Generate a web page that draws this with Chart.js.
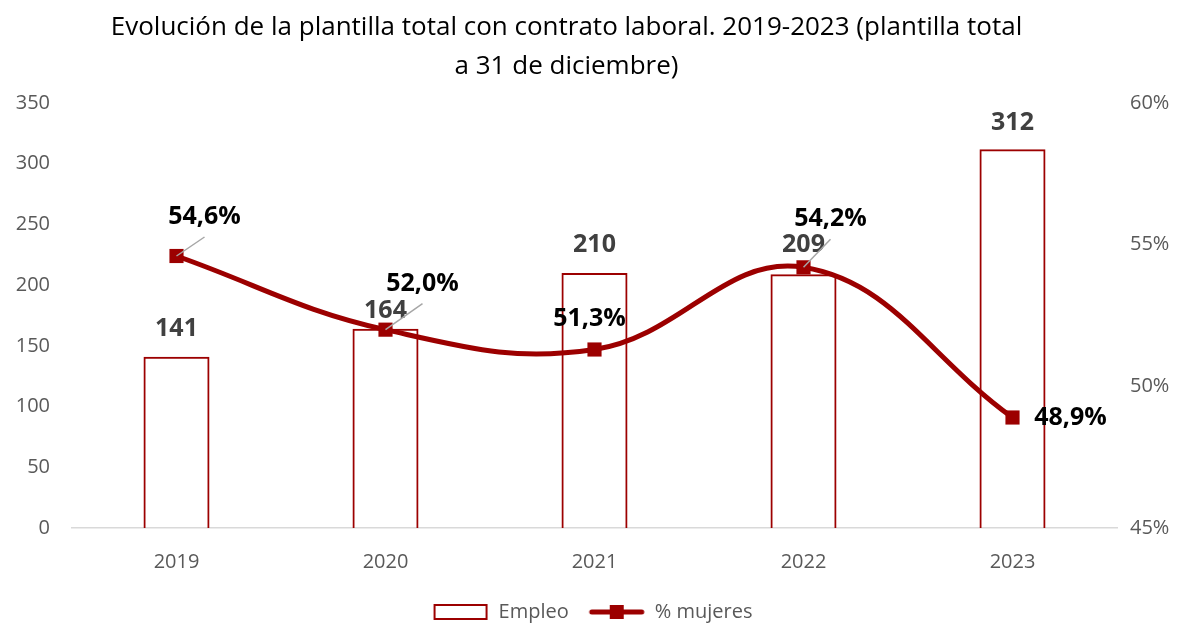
<!DOCTYPE html>
<html>
<head>
<meta charset="utf-8">
<script src="https://cdn.jsdelivr.net/npm/chart.js@4"></script>
<style>
  body { margin: 0; background: #fff; }
  #wrap { width: 1185px; height: 624px; }
</style>
</head>
<body>
<div id="wrap"><canvas id="myChart" width="1185" height="624"></canvas></div>
<script>
let years      = ["2019", "2020", "2021", "2022", "2023"];
let empleo     = [141, 164, 210, 209, 312];
let mujeres    = [54.6, 52.0, 51.3, 54.2, 48.9];
let leftTicks  = [0, 50, 100, 150, 200, 250, 300, 350];
let rightTicks = [45, 50, 55, 60];

// label placement (pixels), not data
let barLift    = [28, 18, 28, 29, 26];
let pctShift   = [[28, -39], [37, -46], [-5, -31], [27, -48], [58, 0]];
let pctLeader  = [true, true, false, true, false];

const red   = "#9c0000";
const grey  = "#595959";
const fam   = "'Open Sans', 'Noto Sans', sans-serif";

function fmtPct(v) {
    return v.toFixed(1).replace(".", ",") + "%";
}

// little legend swatches
function swatchBox() {
    const c = document.createElement("canvas");
    c.width = 56; c.height = 18;
    const x = c.getContext("2d");
    x.strokeStyle = red; x.lineWidth = 2;
    x.strokeRect(2, 2, 52, 14);
    return c;
}
function swatchLine() {
    const c = document.createElement("canvas");
    c.width = 58; c.height = 18;
    const x = c.getContext("2d");
    x.strokeStyle = red; x.lineWidth = 5; x.lineCap = "round";
    x.beginPath(); x.moveTo(4, 9); x.lineTo(54, 9); x.stroke();
    x.fillStyle = red;
    x.fillRect(22, 2, 14, 14);
    return c;
}

const labelsPlugin = {
    id: "valueLabels",
    afterLayout(chart) {
        // title sits a bit left of centre in the original
        if (chart.titleBlock) {
            chart.titleBlock.left -= 26;
            chart.titleBlock.right -= 26;
        }
    },
    afterDatasetsDraw(chart) {
        const ctx = chart.ctx;
        const barMeta  = chart.getDatasetMeta(0);
        const lineMeta = chart.getDatasetMeta(1);
        ctx.save();
        ctx.textAlign = "center";
        ctx.textBaseline = "middle";

        ctx.font = "bold 25px " + fam;
        ctx.fillStyle = "#404040";
        barMeta.data.forEach((bar, i) => {
            ctx.fillText(String(empleo[i]), bar.x, bar.y - barLift[i]);
        });

        lineMeta.data.forEach((pt, i) => {
            const lx = pt.x + pctShift[i][0];
            const ly = pt.y + pctShift[i][1];
            if (pctLeader[i]) {
                ctx.strokeStyle = "#a6a6a6";
                ctx.lineWidth = 1.5;
                ctx.beginPath();
                ctx.moveTo(pt.x, pt.y);
                ctx.lineTo(lx, ly + 20);
                ctx.stroke();
            }
        });
        ctx.fillStyle = "#000000";
        lineMeta.data.forEach((pt, i) => {
            ctx.fillText(fmtPct(mujeres[i]), pt.x + pctShift[i][0], pt.y + pctShift[i][1]);
        });
        ctx.restore();
    }
};

const ctx = document.getElementById("myChart").getContext("2d");
const myChart = new Chart(ctx, {
    data: {
        labels: years,
        datasets: [
            {
                type: "bar",
                label: "Empleo",
                data: empleo,
                yAxisID: "y",
                backgroundColor: "rgba(255,255,255,0)",
                borderColor: red,
                borderWidth: 2,
                barPercentage: 0.316,
                categoryPercentage: 1,
                order: 2
            },
            {
                type: "line",
                label: "% mujeres",
                data: mujeres,
                yAxisID: "y1",
                borderColor: red,
                backgroundColor: red,
                borderWidth: 5,
                tension: 0.4,
                pointStyle: "rect",
                pointRadius: 10,
                pointHoverRadius: 10,
                pointBackgroundColor: red,
                pointBorderWidth: 0,
                order: 1
            }
        ]
    },
    options: {
        responsive: false,
        animation: false,
        layout: { padding: { left: 0, right: 0, top: 0, bottom: -8 } },
        plugins: {
            title: {
                display: true,
                text: ["Evolución de la plantilla total con contrato laboral. 2019-2023 (plantilla total",
                       "a 31 de diciembre)"],
                color: "#000000",
                font: { family: fam, size: 26, weight: "normal", lineHeight: 1.5 },
                padding: { top: 8, bottom: 17 }
            },
            legend: {
                position: "bottom",
                labels: {
                    usePointStyle: true,
                    pointStyleWidth: 56,
                    color: grey,
                    font: { family: fam, size: 20 },
                    padding: 20,
                    generateLabels: () => [
                        { text: "Empleo", pointStyle: swatchBox(), fontColor: grey, datasetIndex: 0, lineWidth: 0 },
                        { text: "% mujeres", pointStyle: swatchLine(), fontColor: grey, datasetIndex: 1, lineWidth: 0 }
                    ]
                }
            },
            tooltip: { enabled: false }
        },
        scales: {
            x: {
                grid: { display: false },
                border: { display: true, color: "#d9d9d9", width: 1.5 },
                afterFit: s => { s.height = 54; },
                ticks: { color: grey, font: { family: fam, size: 20 }, padding: 14 }
            },
            y: {
                position: "left",
                min: 0,
                max: 350,
                afterBuildTicks: s => { s.ticks = leftTicks.map(v => ({ value: v })); },
                afterFit: s => { s.width = 72; },
                grid: { display: false, drawTicks: false },
                border: { display: false },
                ticks: { color: grey, font: { family: fam, size: 20 }, padding: 22 }
            },
            y1: {
                position: "right",
                min: 45,
                max: 60,
                afterBuildTicks: s => { s.ticks = rightTicks.map(v => ({ value: v })); },
                afterFit: s => { s.width = 68; },
                grid: { display: false, drawTicks: false },
                border: { display: false },
                ticks: {
                    color: grey,
                    font: { family: fam, size: 20 },
                    padding: 13,
                    callback: v => v + "%"
                }
            }
        }
    },
    plugins: [labelsPlugin]
});
</script>
</body>
</html>
